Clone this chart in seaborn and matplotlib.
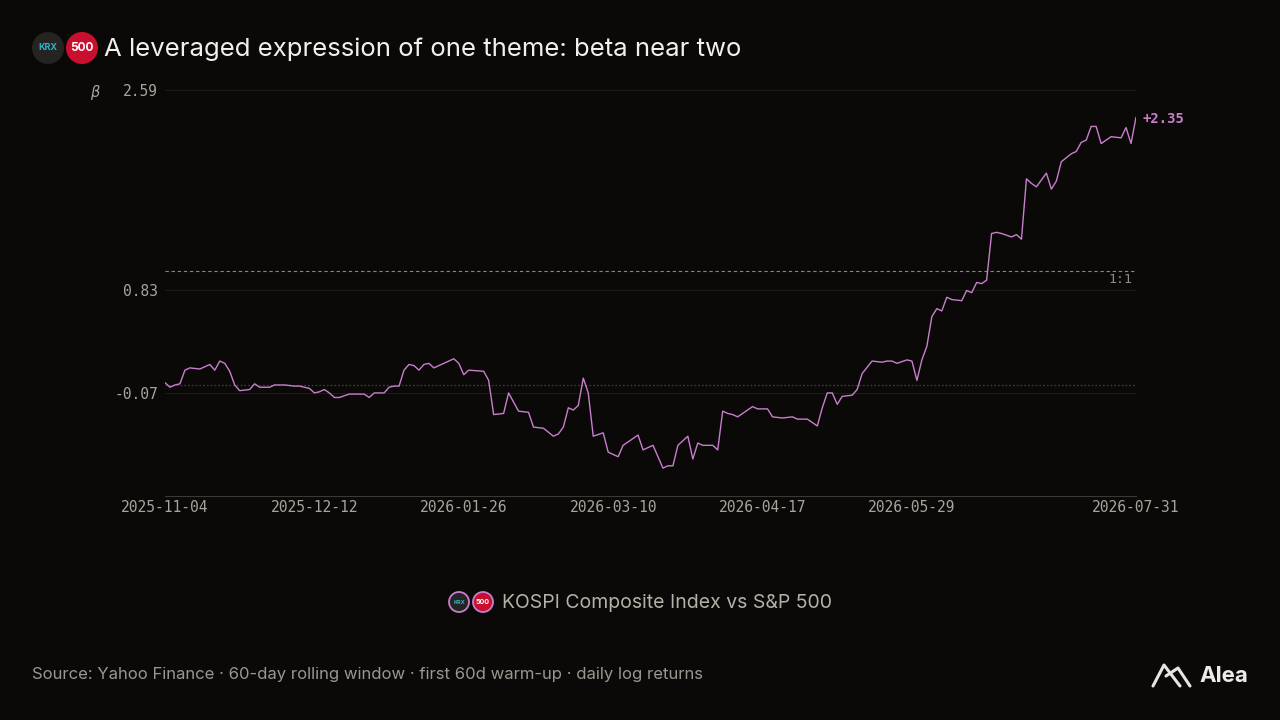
import numpy as np
import pandas as pd
import matplotlib
matplotlib.use("Agg")
import matplotlib.pyplot as plt
from matplotlib.patches import Circle
from matplotlib.lines import Line2D
import seaborn as sns

# ---------------- data ----------------
day_index = [0, 1, 2, 3, 4, 5, 7, 8, 9, 10, 11, 12, 13, 14, 15, 17, 18, 19, 21, 22,
             24, 26, 27, 29, 30, 31, 32, 33, 34, 35, 37, 40, 41, 42, 44, 45, 46, 47, 48, 49,
             50, 51, 52, 53, 54, 56, 58, 59, 60, 61, 64, 65, 66, 68, 69, 70, 71, 73, 74, 76,
             78, 79, 80, 81, 82, 83, 84, 85, 86, 88, 89, 91, 92, 94, 95, 96, 98, 100, 101, 102,
             103, 105, 106, 107, 108, 110, 111, 112, 113, 114, 115, 117, 118, 119, 121, 122, 124, 126, 127, 129,
             131, 132, 133, 134, 135, 136, 138, 139, 140, 142, 144, 145, 146, 147, 149, 150, 151, 152, 153, 154,
             155, 156, 157, 158, 160, 161, 162, 163, 164, 165, 166, 167, 168, 170, 171, 172, 173, 174, 175, 177,
             178, 179, 180, 182, 183, 184, 185, 186, 187, 188, 190, 192, 193, 194, 195]
beta = [0.02, -0.02, 0.00, 0.01, 0.13, 0.15, 0.14, 0.16, 0.18, 0.13, 0.21, 0.19, 0.12, 0.00, -0.05, -0.04, 0.01, -0.02, -0.02, 0.00,
        0.00, -0.01, -0.01, -0.03, -0.07, -0.06, -0.04, -0.07, -0.11, -0.11, -0.08, -0.08, -0.11, -0.07, -0.07, -0.02, -0.01, -0.01, 0.13, 0.18,
        0.17, 0.13, 0.18, 0.19, 0.15, 0.19, 0.23, 0.19, 0.09, 0.13, 0.12, 0.04, -0.26, -0.25, -0.07, -0.15, -0.23, -0.24, -0.37, -0.38,
        -0.45, -0.43, -0.37, -0.20, -0.22, -0.18, 0.06, -0.07, -0.45, -0.42, -0.59, -0.63, -0.53, -0.47, -0.44, -0.57, -0.53, -0.73, -0.71, -0.71,
        -0.53, -0.45, -0.65, -0.51, -0.53, -0.53, -0.57, -0.23, -0.25, -0.26, -0.28, -0.22, -0.19, -0.21, -0.21, -0.28, -0.29, -0.28, -0.30, -0.30,
        -0.36, -0.20, -0.07, -0.07, -0.17, -0.10, -0.09, -0.04, 0.10, 0.21, 0.20, 0.21, 0.21, 0.19, 0.22, 0.21, 0.04, 0.22, 0.34, 0.60,
        0.67, 0.65, 0.77, 0.75, 0.74, 0.83, 0.81, 0.90, 0.89, 0.92, 1.33, 1.34, 1.33, 1.30, 1.32, 1.28, 1.81, 1.77, 1.74, 1.86,
        1.72, 1.79, 1.96, 2.03, 2.05, 2.13, 2.15, 2.27, 2.27, 2.12, 2.18, 2.17, 2.26, 2.12, 2.35]

tick_positions = [0, 30, 60, 90, 120, 150, 195]
tick_labels = ["2025-11-04", "2025-12-12", "2026-01-26", "2026-03-10",
               "2026-04-17", "2026-05-29", "2026-07-31"]
y_ticks = [2.59, 0.83, -0.07]
y_limits = [-0.975, 2.59]
parity_level = 1.0
last_label = "+2.35"

title = "A leveraged expression of one theme: beta near two"
legend_text = "KOSPI Composite Index vs S&P 500"
source_text = "Source: Yahoo Finance · 60-day rolling window · first 60d warm-up · daily log returns"

# ---------------- style ----------------
BG = "#0a0908"
LINE = "#c77fcc"
TICK = "#a9a49b"
GRID = "#1c1b19"

sns.set_theme(style="dark", rc={
    "figure.facecolor": BG, "axes.facecolor": BG, "savefig.facecolor": BG,
    "axes.edgecolor": BG, "grid.color": GRID,
})
plt.rcParams["font.family"] = ["Inter", "DejaVu Sans"]

df = pd.DataFrame({"day": day_index, "beta": beta})

fig = plt.figure(figsize=(12.8, 7.2), dpi=100)
ax = fig.add_axes([165 / 1280, 1 - 496 / 720, (1136 - 165) / 1280, (496 - 90) / 720])
ax.set_facecolor(BG)

sns.lineplot(data=df, x="day", y="beta", ax=ax, color=LINE, linewidth=1.0)

ax.set_xlim(0, 195)
ax.set_ylim(*y_limits)
ax.set_xlabel("")
ax.set_ylabel("")
ax.set_xticks(tick_positions)
ax.set_xticklabels(tick_labels, family="DejaVu Sans Mono", fontsize=10.5, color=TICK)
ax.set_yticks(y_ticks)
ax.set_yticklabels([f"{v:.2f}" for v in y_ticks], family="DejaVu Sans Mono", fontsize=10.5, color=TICK)
ax.tick_params(axis="both", length=0)
ax.tick_params(axis="x", pad=3)
ax.tick_params(axis="y", pad=5)
ax.grid(axis="y", color=GRID, linewidth=0.8)
ax.grid(axis="x", visible=False)
for s in ["top", "right", "left"]:
    ax.spines[s].set_visible(False)
ax.spines["bottom"].set_color("#3a3935")
ax.spines["bottom"].set_linewidth(0.8)

# reference lines
ax.axhline(0, color="#3d3c38", linewidth=0.9, linestyle=(0, (1.5, 1.5)), zorder=1)
ax.axhline(parity_level, color="#8a8780", linewidth=0.8, linestyle=(0, (3, 2.5)), zorder=1)
ax.text(194.3, parity_level - 0.015, "1:1", ha="right", va="top", family="DejaVu Sans Mono",
        fontsize=9.5, color="#8f8b83")

# last value annotation
ax.annotate(last_label, xy=(day_index[-1], beta[-1]), xytext=(5, -1), textcoords="offset points",
            ha="left", va="center", family="DejaVu Sans Mono", fontsize=10, fontweight="bold",
            color=LINE, annotation_clip=False)

# beta axis label
fig.text(95 / 1280, 1 - 93 / 720, "β", fontsize=10.5, color=TICK, style="italic",
         ha="center", va="center", family="DejaVu Sans")

# ---------------- badges ----------------
def badge(cx, cy, r, face, text, tcolor, fs, edge=None):
    circ = Circle((cx, cy), r, transform=None, facecolor=face,
                  edgecolor=edge if edge else face, linewidth=1.3 if edge else 0, zorder=5)
    fig.patches.append(circ)
    fig.text(cx / 1280, cy / 720, text, ha="center", va="center", fontsize=fs,
             color=tcolor, fontweight="bold", zorder=6)

# title badges (pixel coords from bottom)
badge(48, 720 - 48, 16, "#252422", "KRX", "#2ab3c9", 6.5)
badge(82, 720 - 48, 16, "#c8102e", "500", "#ffffff", 8.5)
fig.text(104 / 1280, 1 - 49 / 720, title, ha="left", va="center", fontsize=18.5,
         color="#f2f0ec")

# legend badges
badge(459, 720 - 602, 10, "#252422", "KRX", "#2ab3c9", 4, edge=LINE)
badge(483, 720 - 602, 10, "#c8102e", "500", "#ffffff", 5, edge=LINE)
fig.text(502 / 1280, 1 - 603 / 720, legend_text, ha="left", va="center", fontsize=14,
         color="#b6b1a7")

# footer
fig.text(32 / 1280, 1 - 675 / 720, source_text, ha="left", va="center", fontsize=12,
         color="#9c978e")
fig.lines.append(Line2D([1153 / 1280, 1164 / 1280, 1180 / 1280],
                        [1 - 686 / 720, 1 - 665 / 720, 1 - 686 / 720],
                        transform=fig.transFigure, color="#e8e6e2", linewidth=2.2,
                        solid_capstyle="round"))
fig.lines.append(Line2D([1166 / 1280, 1178 / 1280, 1190 / 1280],
                        [1 - 676 / 720, 1 - 668 / 720, 1 - 686 / 720],
                        transform=fig.transFigure, color="#e8e6e2", linewidth=2.2,
                        solid_capstyle="round"))
fig.text(1199 / 1280, 1 - 676 / 720, "Alea", ha="left", va="center", fontsize=16,
         fontweight="bold", color="#ecebe7")

fig.savefig("out.png", dpi=100, facecolor=BG)
